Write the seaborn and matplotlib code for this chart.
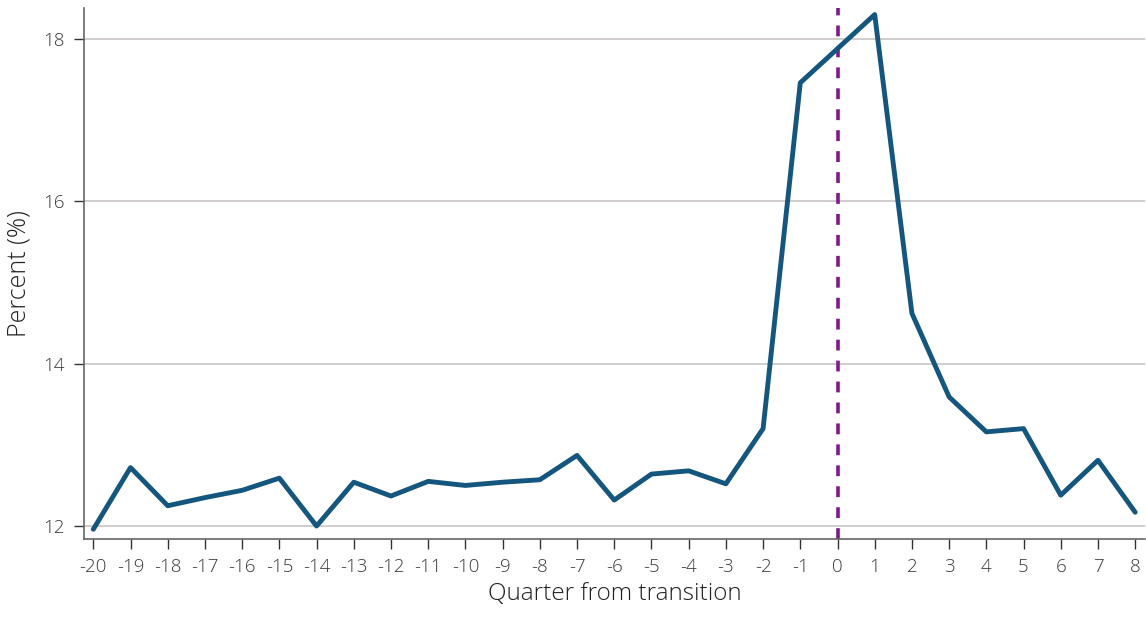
import matplotlib
matplotlib.use("Agg")
import matplotlib.pyplot as plt
import seaborn as sns
import pandas as pd

# Quarters relative to the transition and the share observed in each
quarters = list(range(-20, 9))
percent = [11.96, 12.72, 12.25, 12.35, 12.44, 12.59, 12.00, 12.54, 12.37, 12.55,
           12.50, 12.54, 12.57, 12.87, 12.32, 12.64, 12.68, 12.52, 13.20, 17.46,
           17.88, 18.30, 14.62, 13.59, 13.16, 13.20, 12.38, 12.81, 12.17]
y_ticks = [12, 14, 16, 18]

df = pd.DataFrame({"quarter": quarters, "percent": percent})

sns.set_theme(style="white")
plt.rcParams["font.family"] = ["Open Sans", "DejaVu Sans"]

fig = plt.figure(figsize=(11.46, 6.21), dpi=100)
ax = fig.add_axes([0.0733, 0.132, 0.9257, 0.855])

for t in y_ticks:
    ax.axhline(t, color="#c9c5c5", lw=1.2, zorder=0)

# Transition marker sits beneath the series line
ax.axvline(0, color="#84168f", lw=2.6, ls=(0, (3.0, 2.8)), zorder=2)
sns.lineplot(data=df, x="quarter", y="percent", ax=ax, color="#14567e", lw=3.5, zorder=3)

ax.set_xlim(-20.25, 8.26)
ax.set_ylim(11.84, 18.38)
ax.set_xticks(quarters)
ax.set_xticklabels([str(q) for q in quarters])
ax.set_yticks(y_ticks)

for side in ["top", "right"]:
    ax.spines[side].set_visible(False)
for side in ["left", "bottom"]:
    ax.spines[side].set_color("#666666")
    ax.spines[side].set_linewidth(1.2)

ax.tick_params(axis="both", which="major", direction="out", length=7.5, width=1,
               color="#333333", labelsize=13.5, labelcolor="#3a3a3a", pad=6.5,
               bottom=True, left=True)
for lbl in ax.get_xticklabels() + ax.get_yticklabels():
    lbl.set_fontweight("light")

ax.set_xlabel("Quarter from transition", fontsize=17.5, color="#222222", labelpad=4,
              fontweight="light")
ax.set_ylabel("Percent (%)", fontsize=18, color="#222222", labelpad=8,
              fontweight="light")

fig.savefig("out.png", dpi=100)
